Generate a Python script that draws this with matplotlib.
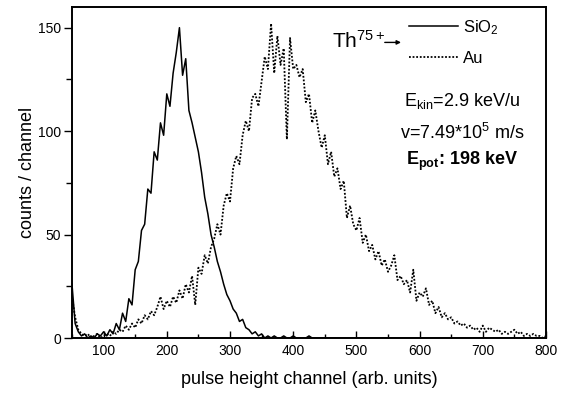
import matplotlib
matplotlib.use('Agg')
import matplotlib.pyplot as plt
from matplotlib.ticker import MultipleLocator

plt.rcParams['font.family'] = ['Liberation Sans', 'DejaVu Sans']
plt.rcParams['mathtext.fontset'] = 'custom'
plt.rcParams['mathtext.rm'] = 'Liberation Sans'
plt.rcParams['mathtext.it'] = 'Liberation Sans:italic'
plt.rcParams['mathtext.bf'] = 'Liberation Sans:bold'

# channel numbers (every 5th channel)
channels = list(range(50, 805, 5))

# SiO2 spectrum
sio2 = [26, 7, 3, 1, 2, 0, 1, 0, 2, 1,
        3, 1, 4, 2, 7, 4, 12, 8, 19, 16,
        33, 37, 52, 55, 72, 70, 90, 86, 104, 98,
        118, 112, 128, 138, 150, 127, 135, 110, 104, 97,
        90, 80, 68, 60, 50, 44, 37, 32, 26, 21,
        18, 14, 12, 8, 9, 5, 4, 2, 3, 1,
        2, 0, 1, 0, 1, 0, 0, 1, 0, 0,
        1, 0, 0, 0, 0, 1, 0, 0, 0, 0,
        0, 0, 0, 0, 0, 0, 0, 0, 0, 0,
        0, 0, 0, 0, 0, 0, 0, 0, 0, 0,
        0, 0, 0, 0, 0, 0, 0, 0, 0, 0,
        0, 0, 0, 0, 0, 0, 0, 0, 0, 0,
        0, 0, 0, 0, 0, 0, 0, 0, 0, 0,
        0, 0, 0, 0, 0, 0, 0, 0, 0, 0,
        0, 0, 0, 0, 0, 0, 0, 0, 0, 0,
        0]

# Au spectrum
au = [20, 10, 4, 2, 1, 2, 0, 1, 2, 0,
      1, 2, 1, 3, 2, 4, 3, 6, 4, 7,
      5, 9, 7, 11, 9, 13, 11, 15, 20, 14,
      18, 15, 20, 17, 23, 19, 26, 22, 30, 16,
      34, 31, 40, 36, 44, 48, 55, 50, 64, 70,
      66, 82, 88, 84, 98, 105, 100, 116, 118, 112,
      124, 136, 130, 152, 128, 146, 132, 140, 96, 145,
      130, 132, 126, 130, 114, 118, 104, 110, 100, 92,
      98, 84, 90, 78, 82, 72, 76, 58, 64, 55,
      52, 58, 46, 50, 42, 45, 38, 42, 35, 38,
      32, 35, 40, 28, 30, 26, 28, 22, 33, 18,
      22, 20, 24, 16, 18, 12, 15, 10, 12, 9,
      10, 7, 8, 6, 7, 5, 6, 4, 5, 3,
      6, 3, 5, 4, 3, 4, 2, 3, 2, 3,
      4, 2, 3, 1, 2, 1, 2, 1, 1, 0,
      1]

fig = plt.figure(figsize=(5.65, 3.95), dpi=100)
ax = fig.add_axes([0.1274, 0.1443, 0.839, 0.838])

ax.plot(channels, sio2, color='black', lw=1.1, label='SiO$_2$')
ax.plot(channels, au, color='black', lw=1.3, linestyle=(0, (1, 1)), label='Au')

ax.set_xlim(50, 800)
ax.set_ylim(0, 160)
ax.xaxis.set_major_locator(MultipleLocator(100))
ax.xaxis.set_minor_locator(MultipleLocator(50))
ax.yaxis.set_major_locator(MultipleLocator(50))
ax.yaxis.set_minor_locator(MultipleLocator(25))
ax.tick_params(axis='x', which='major', direction='in', length=5, width=1, labelsize=10, pad=4)
ax.tick_params(axis='x', which='minor', direction='in', length=3, width=1)
ax.tick_params(axis='y', which='major', direction='out', length=6, width=1, labelsize=10, pad=2)
ax.tick_params(axis='y', which='minor', direction='out', length=4, width=1)
for s in ax.spines.values():
    s.set_linewidth(1.4)

ax.set_xlabel('pulse height channel (arb. units)', fontsize=13, labelpad=10)
ax.set_ylabel('counts / channel', fontsize=13, labelpad=1)

ax.legend(loc='upper right', bbox_to_anchor=(0.90, 0.967), frameon=False,
          fontsize=12, handlelength=2.9, handletextpad=0.3, labelspacing=0.85,
          borderpad=0, borderaxespad=0)

ax.text(0.549, 0.876, 'Th$^{75+}$', transform=ax.transAxes, fontsize=15, va='baseline')
ax.annotate('', xy=(0.700, 0.893), xytext=(0.654, 0.893), xycoords='axes fraction',
            arrowprops=dict(arrowstyle='-|>', color='black', lw=1, mutation_scale=6))

ax.text(0.823, 0.716, 'E$_{\\rm kin}$=2.9 keV/u', transform=ax.transAxes,
        fontsize=13, ha='center', va='center')
ax.text(0.823, 0.619, 'v=7.49*10$^5$ m/s', transform=ax.transAxes,
        fontsize=13, ha='center', va='center')
ax.text(0.823, 0.535, 'E$_{\\mathbf{pot}}$: 198 keV', transform=ax.transAxes,
        fontsize=13, ha='center', va='center', fontweight='bold')

fig.savefig('out.png', dpi=100)
